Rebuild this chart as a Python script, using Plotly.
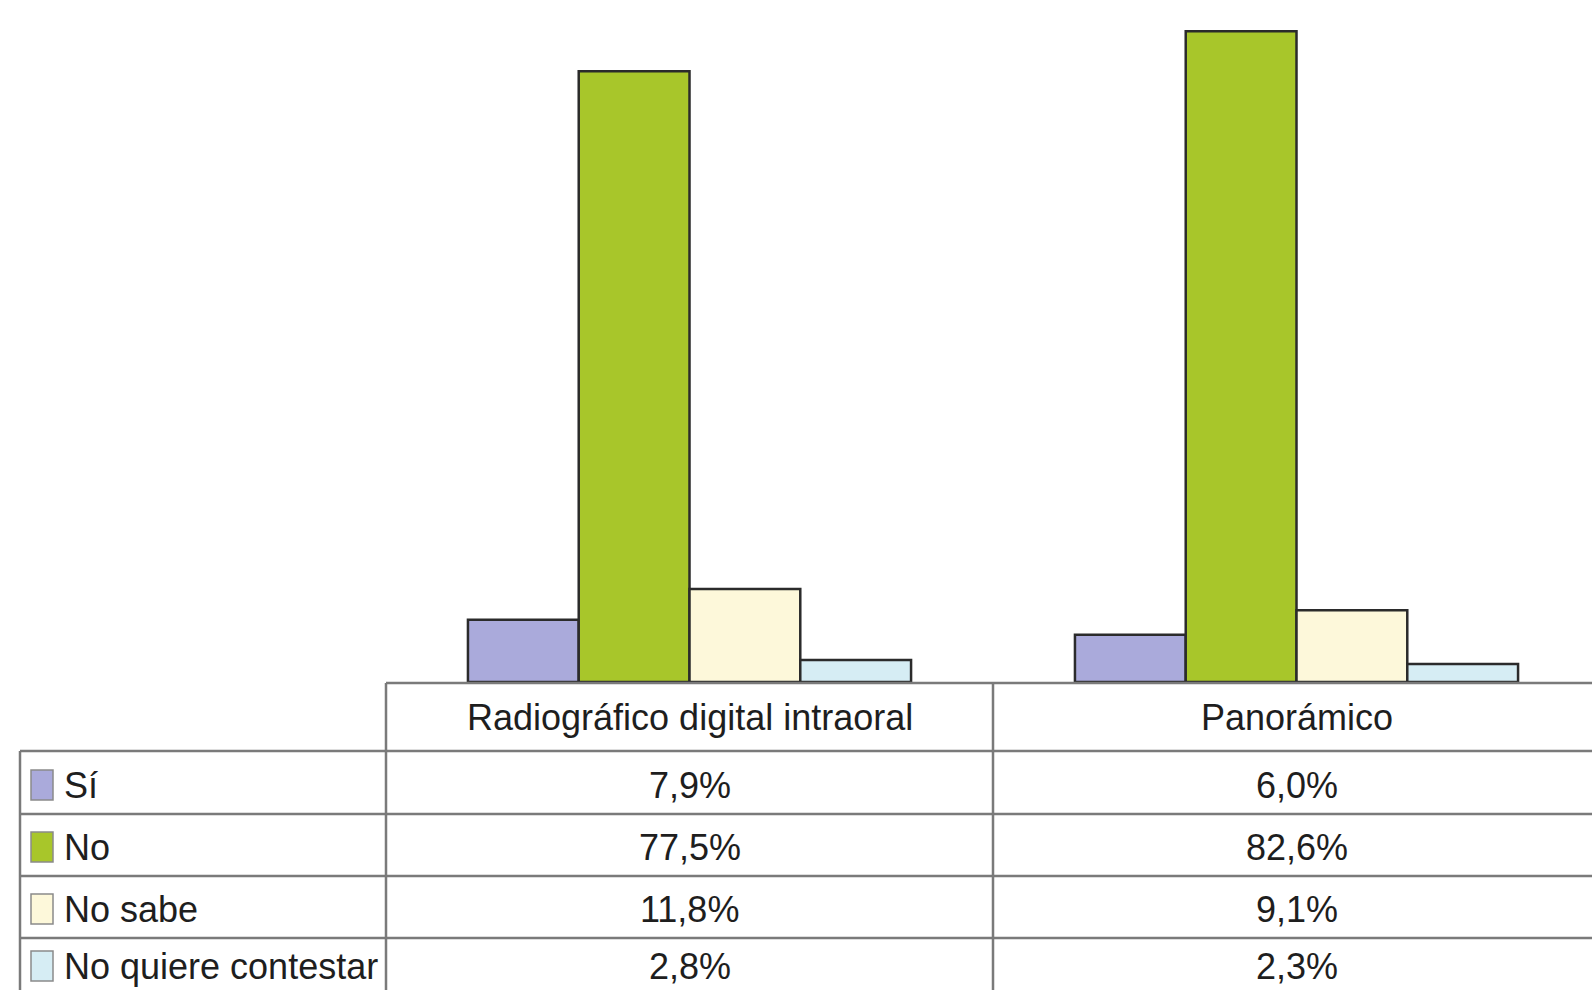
import plotly.graph_objects as go

categories = ["Radiográfico digital intraoral", "Panorámico"]
series_names = ["Sí", "No", "No sabe", "No quiere contestar"]
si_vals = [7.9, 6.0]
no_vals = [77.5, 82.6]
nosabe_vals = [11.8, 9.1]
nqc_vals = [2.8, 2.3]
series_values = [si_vals, no_vals, nosabe_vals, nqc_vals]
colors = ["#aaaadb", "#a8c62a", "#fdf8da", "#d6edf4"]

W, H = 1592, 990
L, BASE = 386, 682  # plot left edge and baseline in pixels
FONT = "Liberation Sans, Arial, sans-serif"
FS = 36
TXT = "#1e1e1e"
GRID = "#7a7a7a"

fig = go.Figure()
for name, vals, col in zip(series_names, series_values, colors):
    fig.add_trace(go.Bar(
        x=categories, y=vals, name=name,
        marker=dict(color=col, line=dict(color="#2b2b2b", width=2.5)),
        showlegend=False,
    ))

def px(p):
    return (p - L) / (W - L)

def py(p):
    return (BASE - p) / BASE

shapes = []
def hline(x0, x1, y):
    shapes.append(dict(type="line", xref="paper", yref="paper",
                       x0=px(x0), x1=px(x1), y0=py(y), y1=py(y),
                       line=dict(color=GRID, width=2.5)))
def vline(x, y0, y1):
    shapes.append(dict(type="line", xref="paper", yref="paper",
                       x0=px(x), x1=px(x), y0=py(y0), y1=py(y1),
                       line=dict(color=GRID, width=2.5)))

row_lines = [751, 814, 876, 938]
hline(386, W, 683)
for y in row_lines:
    hline(20, W, y)
vline(386, 683, H)
vline(993, 683, H)
vline(20, 751, H)

annotations = []
for c in categories:
    annotations.append(dict(x=c, xref="x", y=py(717), yref="paper",
                            text=c, showarrow=False, xanchor="center", yanchor="middle",
                            font=dict(family=FONT, size=FS, color=TXT)))
row_centers = [785, 847, 909, 966]
for name, vals, col, yc in zip(series_names, series_values, colors, row_centers):
    shapes.append(dict(type="rect", xref="paper", yref="paper",
                       x0=px(31), x1=px(53), y0=py(yc - 15), y1=py(yc + 15),
                       fillcolor=col, line=dict(color="#8a8a8a", width=1.5)))
    annotations.append(dict(x=px(62), xref="paper", y=py(yc), yref="paper",
                            text=name, showarrow=False, xanchor="left", yanchor="middle",
                            font=dict(family=FONT, size=FS, color=TXT)))
    for c, v in zip(categories, vals):
        annotations.append(dict(x=c, xref="x", y=py(yc), yref="paper",
                                text=f"{v:.1f}%".replace(".", ","), showarrow=False,
                                xanchor="center", yanchor="middle",
                                font=dict(family=FONT, size=FS, color=TXT)))

span = (W - L) / 607.0
fig.update_layout(
    width=W, height=H,
    margin=dict(l=L, r=0, t=0, b=H - BASE),
    paper_bgcolor="white", plot_bgcolor="white",
    barmode="group", bargap=0.27, bargroupgap=0,
    xaxis=dict(range=[-0.5, -0.5 + span], showticklabels=False, showgrid=False,
               zeroline=False, showline=False, ticks=""),
    yaxis=dict(range=[0, 86.55], visible=False),
    shapes=shapes, annotations=annotations,
)

fig.write_html("out.html")
